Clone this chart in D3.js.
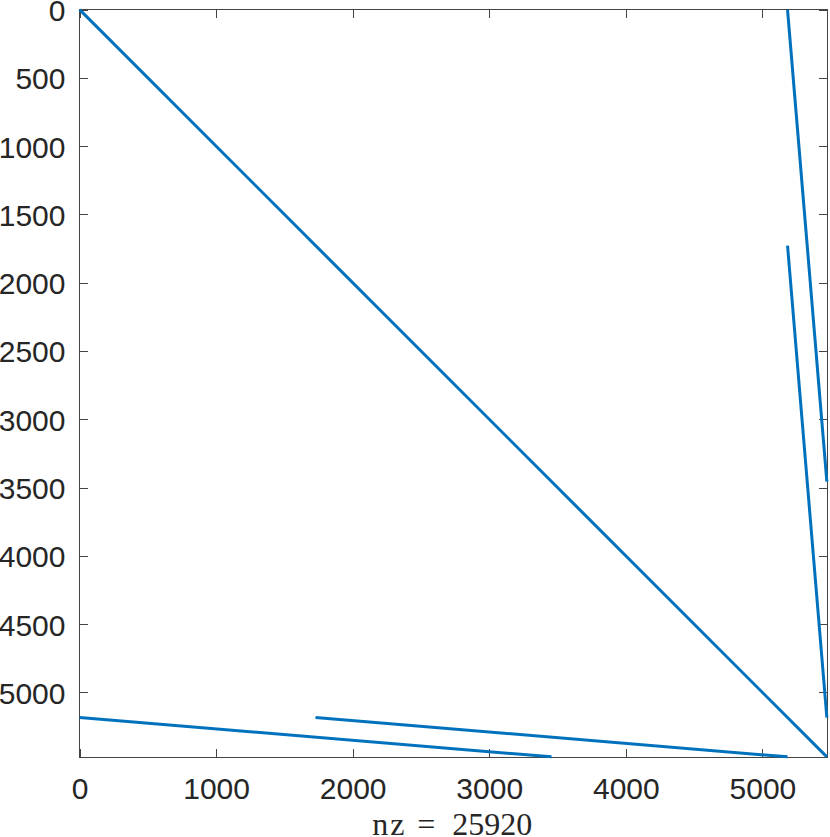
<!DOCTYPE html>
<html>
<head>
<meta charset="utf-8">
<script src="https://cdn.jsdelivr.net/npm/d3@7"></script>
<style>
  body { margin: 0; background: #fff; }
  svg { display: block; }
</style>
</head>
<body>
<div id="chart"></div>
<script>
// matrix size and nonzero count
const nRows = 5472;
const nCols = 5472;
const nz = 25920;

// nonzero bands, each drawn from (colStart,rowStart) to (colEnd,rowEnd)
const bandColStart = [1, 5184, 5184, 1, 1728];
const bandRowStart = [1, 1, 1728, 5184, 5184];
const bandColEnd = [5472, 5472, 5472, 3456, 5184];
const bandRowEnd = [5472, 3456, 5184, 5472, 5472];

// tick labels
const xTicks = [0, 1000, 2000, 3000, 4000, 5000];
const yTicks = [0, 500, 1000, 1500, 2000, 2500, 3000, 3500, 4000, 4500, 5000];

const width = 830, height = 837;
const margin = { left: 79.5, top: 9.5, right: 3, bottom: 80 };

const svg = d3.select('#chart')
    .append('svg')
    .attr('width', width)
    .attr('height', height);

const x = d3.scaleLinear()
    .domain([0, nCols + 1])
    .range([margin.left, width - margin.right]);

const y = d3.scaleLinear()
    .domain([0, nRows + 1])
    .range([margin.top, height - margin.bottom]);

const fontFamily = '"Liberation Sans", Helvetica, Arial, sans-serif';
const tickLen = 8;

function styleAxis(g) {
    g.select('.domain').remove();
    g.selectAll('.tick line').attr('stroke', '#444').attr('shape-rendering', 'crispEdges');
    g.selectAll('.tick text')
        .attr('fill', '#262626')
        .attr('font-family', fontFamily)
        .attr('font-size', 30);
}

// bottom axis with labels
svg.append('g')
    .attr('transform', `translate(0,${y.range()[1]})`)
    .call(d3.axisBottom(x).tickValues(xTicks).tickSize(-tickLen).tickPadding(0).tickFormat(d3.format('d')))
    .call(styleAxis)
    .call(g => g.selectAll('.tick text').attr('y', 42).attr('dy', 0));

// left axis with labels
svg.append('g')
    .attr('transform', `translate(${x.range()[0]},0)`)
    .call(d3.axisLeft(y).tickValues(yTicks).tickSize(-tickLen).tickPadding(14).tickFormat(d3.format('d')))
    .call(styleAxis)
    .call(g => g.selectAll('.tick text').attr('dy', 11));

// mirrored ticks on top and right
svg.append('g')
    .attr('transform', `translate(0,${y.range()[0]})`)
    .call(d3.axisTop(x).tickValues(xTicks).tickSize(-tickLen).tickFormat(''))
    .call(styleAxis);

svg.append('g')
    .attr('transform', `translate(${x.range()[1]},0)`)
    .call(d3.axisRight(y).tickValues(yTicks).tickSize(-tickLen).tickFormat(''))
    .call(styleAxis);

// box
svg.append('rect')
    .attr('x', x.range()[0])
    .attr('y', y.range()[0])
    .attr('width', x.range()[1] - x.range()[0])
    .attr('height', y.range()[1] - y.range()[0])
    .attr('fill', 'none')
    .attr('stroke', '#444')
    .attr('stroke-width', 1)
    .attr('shape-rendering', 'crispEdges');

// nonzero pattern
const bands = bandColStart.map((c, i) => ({
    c0: c, r0: bandRowStart[i], c1: bandColEnd[i], r1: bandRowEnd[i]
}));

svg.append('g')
    .selectAll('line')
    .data(bands)
    .join('line')
    .attr('x1', d => x(d.c0))
    .attr('y1', d => y(d.r0))
    .attr('x2', d => x(d.c1))
    .attr('y2', d => y(d.r1))
    .attr('stroke', '#0072BD')
    .attr('stroke-width', 3);

// xlabel (latex-like spacing around "=")
const cx = (x.range()[0] + x.range()[1]) / 2;
const xlabel = svg.append('text')
    .attr('y', 835)
    .attr('font-family', '"Liberation Serif", "DejaVu Serif", serif')
    .attr('font-size', 32)
    .attr('fill', '#262626');
xlabel.append('tspan').attr('x', cx - 81).attr('letter-spacing', 2).text('nz');
xlabel.append('tspan').attr('x', cx - 36).text('=');
xlabel.append('tspan').attr('x', cx - 1).text(nz);
</script>
</body>
</html>
